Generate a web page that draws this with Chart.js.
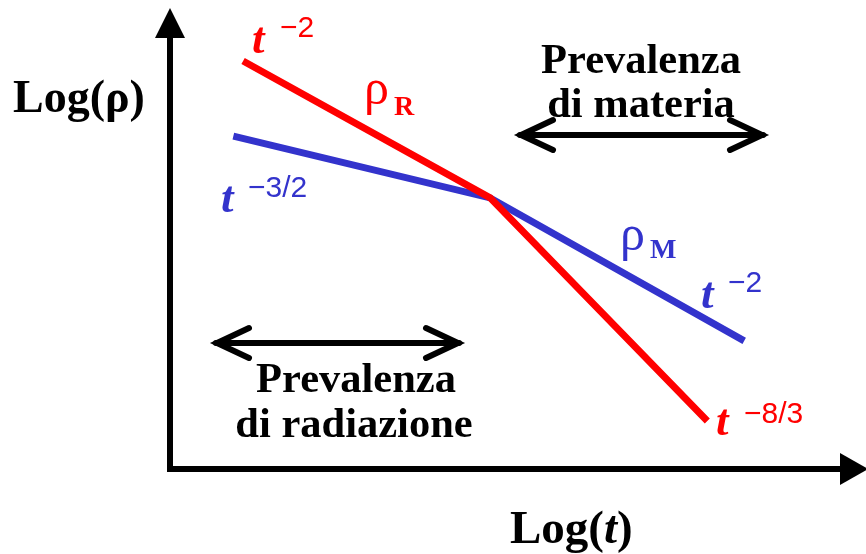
<!DOCTYPE html>
<html>
<head>
<meta charset="utf-8">
<script src="https://cdn.jsdelivr.net/npm/chart.js@4"></script>
<style>
html,body{margin:0;padding:0;background:#fff;}
canvas{display:block;}
</style>
</head>
<body>
<canvas id="c" width="866" height="554"></canvas>
<script>
// Log(t) positions (arbitrary units) and Log(rho) values
const radiationX = [1.05, 4.60, 7.72];
const radiationY = [8.85, 5.88, 1.04];
const matterX = [0.91, 4.60, 8.25];
const matterY = [7.22, 5.88, 2.78];

const RED = '#ff0000';
const BLUE = '#3333cc';

function pts(xs, ys){ return xs.map((x,i)=>({x:x, y:ys[i]})); }

const decor = {
  id: 'decor',
  afterDatasetsDraw(chart){
    const ctx = chart.ctx;
    const a = chart.chartArea;
    ctx.save();
    ctx.fillStyle = '#000'; ctx.strokeStyle = '#000';
    // axes
    ctx.lineWidth = 6; ctx.lineCap = 'butt';
    ctx.beginPath();
    ctx.moveTo(a.left, 38); ctx.lineTo(a.left, a.bottom);
    ctx.lineTo(840, a.bottom);
    ctx.stroke();
    // arrow heads
    ctx.beginPath();
    ctx.moveTo(a.left, 8); ctx.lineTo(a.left-15, 38); ctx.lineTo(a.left+15, 38); ctx.closePath(); ctx.fill();
    ctx.beginPath();
    ctx.moveTo(868, a.bottom); ctx.lineTo(840, a.bottom-16); ctx.lineTo(840, a.bottom+16); ctx.closePath(); ctx.fill();
    // double arrows
    function dbl(x1, x2, y){
      ctx.lineWidth = 6; ctx.lineCap = 'round'; ctx.lineJoin = 'miter';
      ctx.beginPath(); ctx.moveTo(x1, y); ctx.lineTo(x2, y); ctx.stroke();
      ctx.beginPath(); ctx.moveTo(x1+33, y-15); ctx.lineTo(x1+1, y); ctx.lineTo(x1+33, y+15); ctx.stroke();
      ctx.beginPath(); ctx.moveTo(x2-33, y-15); ctx.lineTo(x2-1, y); ctx.lineTo(x2-33, y+15); ctx.stroke();
    }
    dbl(520, 763, 135);
    dbl(216, 459, 343);
    // texts
    ctx.textBaseline = 'alphabetic';
    const serif = '"Liberation Serif", "Times New Roman", serif';
    const sans = '"Liberation Sans", Arial, sans-serif';
    ctx.fillStyle = '#000';
    ctx.textAlign = 'left';
    ctx.font = 'bold 46px ' + serif;
    ctx.fillText('Log(ρ)', 13, 112);
    // Log(t)
    let x = 510;
    ctx.font = 'bold 47px ' + serif;
    ctx.fillText('Log(', x, 543); x += ctx.measureText('Log(').width;
    ctx.font = 'bold italic 47px ' + serif;
    ctx.fillText('t', x, 543); x += ctx.measureText('t').width;
    ctx.font = 'bold 47px ' + serif;
    ctx.fillText(')', x, 543);
    ctx.textAlign = 'center';
    ctx.font = 'bold 42.5px ' + serif;
    ctx.fillText('Prevalenza', 641, 73);
    ctx.fillText('di materia', 641, 117);
    ctx.fillText('Prevalenza', 356, 392);
    ctx.fillText('di radiazione', 354, 437);
    ctx.textAlign = 'left';
    function tpow(color, tx, tb, exp, ex, eb){
      ctx.fillStyle = color;
      ctx.font = 'bold italic 45px ' + serif;
      ctx.fillText('t', tx, tb);
      ctx.font = '30px ' + sans;
      ctx.fillText(exp, ex, eb);
    }
    tpow(RED, 252, 53, '−2', 280, 37);
    tpow(BLUE, 221, 212, '−3/2', 248, 197);
    tpow(BLUE, 701, 308, '−2', 728, 292);
    tpow(RED, 716, 435, '−8/3', 744, 423);
    function rho(color, rx, rb, sub, sx, sb){
      ctx.fillStyle = color;
      ctx.font = '50px ' + serif;
      ctx.fillText('ρ', rx, rb);
      ctx.font = 'bold 28px ' + serif;
      ctx.fillText(sub, sx, sb);
    }
    rho(RED, 364, 104, 'R', 394, 115);
    rho(BLUE, 620, 250, 'M', 650, 258);
    ctx.restore();
  }
};

new Chart(document.getElementById('c'), {
  type: 'line',
  data: {
    datasets: [
      { label: 'ρR', data: pts(radiationX, radiationY), borderColor: RED, borderWidth: 7, pointRadius: 0, tension: 0, borderJoinStyle: 'miter', borderCapStyle: 'butt' },
      { label: 'ρM', data: pts(matterX, matterY), borderColor: BLUE, borderWidth: 7, pointRadius: 0, tension: 0, borderJoinStyle: 'miter', borderCapStyle: 'butt' }
    ]
  },
  options: {
    responsive: false,
    animation: false,
    layout: { padding: { left: 170, right: 0, top: 8, bottom: 85 } },
    plugins: { legend: { display: false }, tooltip: { enabled: false } },
    scales: {
      x: { type: 'linear', min: 0, max: 10, display: false },
      y: { type: 'linear', min: 0, max: 10, display: false }
    }
  },
  plugins: [decor]
});
</script>
</body>
</html>
